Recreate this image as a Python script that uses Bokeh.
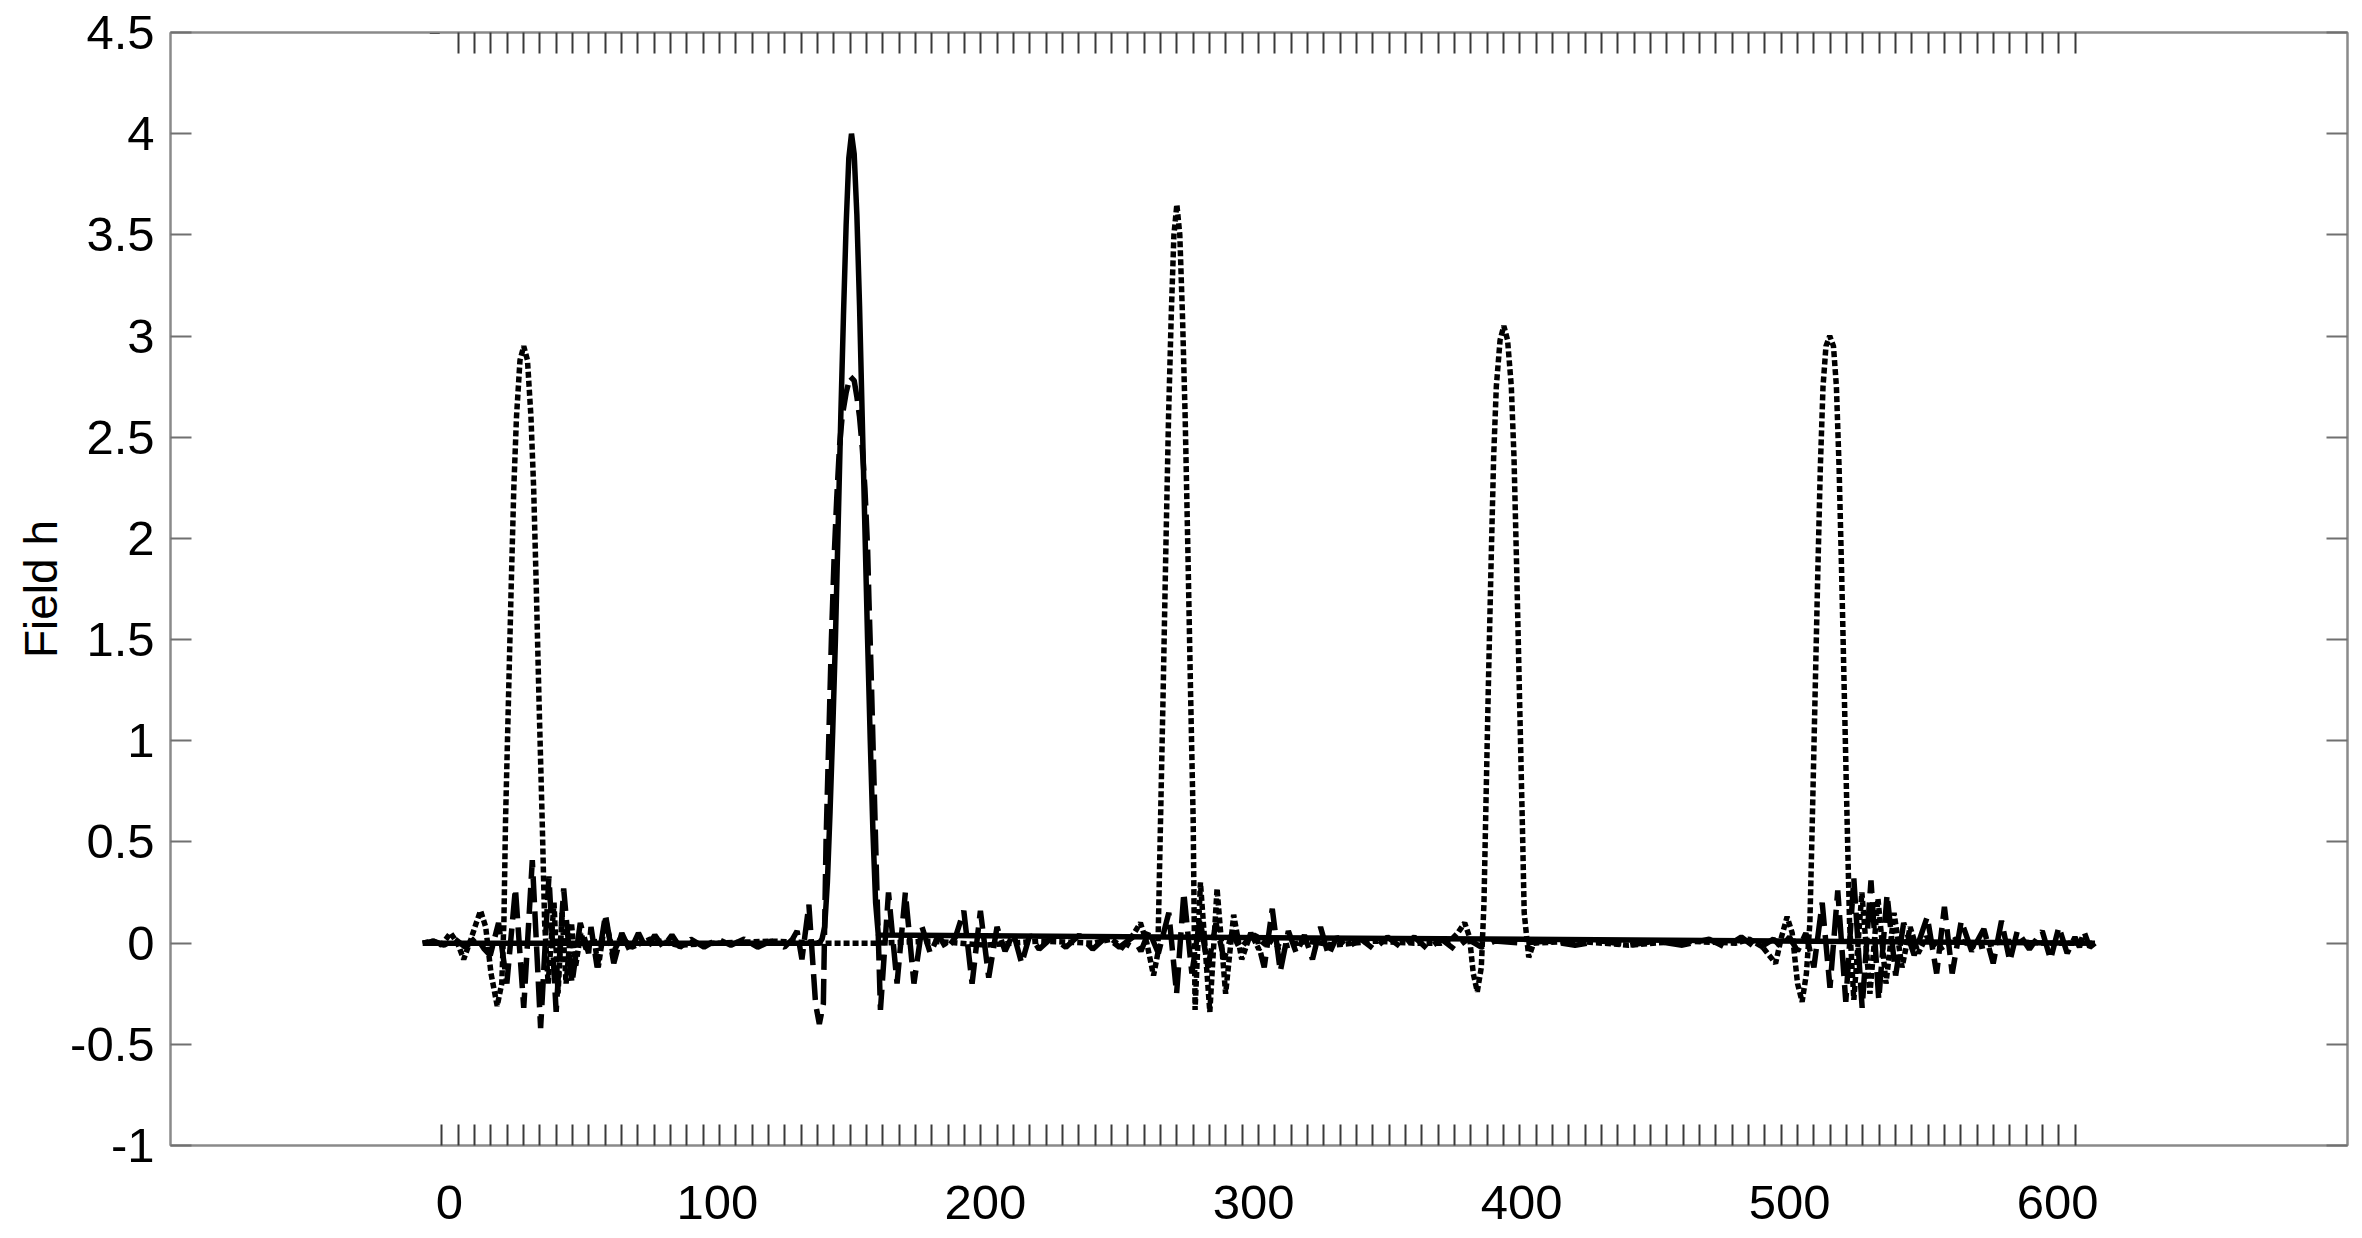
from bokeh.plotting import figure
from bokeh.models import Range1d, FixedTicker, LinearAxis, CustomJSTickFormatter, Title
from bokeh.embed import file_html
from bokeh.resources import INLINE

# ---------------- data ----------------
X_TICKS = [0, 100, 200, 300, 400, 500, 600]
Y_TICKS = [-1, -0.5, 0, 0.5, 1, 1.5, 2, 2.5, 3, 3.5, 4, 4.5]

# lattice marks along the bottom / top frame
LATTICE_FIRST = -2.87
LATTICE_STEP = 6.095
LATTICE_COUNT = 101

TOP_MARK_X = [-5.5]
TOP_MARK_Y = [4.5]

SOLID_X = [-10, 138, 139, 140, 141, 142, 143, 144, 145, 146, 147, 148, 149, 150,
           151, 152, 153, 154, 155, 156, 157, 158, 159, 160, 614]
SOLID_Y = [0, 0, 0.02, 0.08, 0.3, 0.65, 1.05, 1.5, 2.05, 2.6, 3.1, 3.55, 3.88, 4.0,
           3.9, 3.6, 3.15, 2.6, 2.05, 1.5, 1.0, 0.55, 0.2, 0.04, 0]

DASHED_X = [-10, -6, -2, 2, 6, 10, 13, 15.2, 18.3, 21.4, 24.6, 27.7, 30.9, 34.0, 37.1,
            39.8, 42.6, 45.7, 48.8, 51.9, 52.8, 55.1, 58.2, 61.3, 64.3, 67.4, 70.5,
            73.5, 76.6, 79.7, 83.0, 86.0, 90, 95, 100, 105, 110, 115, 120, 125, 128,
            129.7, 131.5, 134.1, 136.6, 138.0, 139.5, 140.5, 141.5, 142.5, 143.5, 144.5,
            145.5, 146.5, 148, 149.5, 151, 152, 153, 154, 155, 156, 156.5, 157.3, 158,
            158.7, 159.3, 160.8, 163.8, 167.0, 170.1, 173.3, 176.3, 179.4,
            182.5, 185.5, 188.8, 191.9, 195.0, 198.1, 201.2, 204.3, 207.3, 210.4, 213.5,
            216.5, 220, 225, 230, 235, 240, 245, 250, 255, 258, 261, 264.5, 268.4, 271.3,
            274.0, 277.0, 280.0, 283.0, 286.0, 289.0, 292.0, 295.0, 298.0, 301.0, 304.0,
            307.0, 310.0, 313.0, 316.0, 319.0, 322.0, 325.0, 328.0, 331.0, 335, 340, 345,
            350, 355, 360, 365, 370, 375, 380, 385, 390, 400, 410, 420, 430, 440, 450,
            460, 470, 476, 482, 488, 494, 497, 500, 503, 506.1, 509.1, 512.2, 515.1,
            518.0, 521.0, 524.0, 527.1, 530.4, 533.3, 536.4, 539.6, 542.6, 546.5, 551.4,
            554.9, 557.8, 560.7, 564.1, 568.0, 572.5, 576.0, 579.1, 582.2, 585.0, 589.5,
            594.3, 597.4, 600.5, 603.6, 606.5, 608.2, 609.8, 612, 614]
DASHED_Y = [0.0, 0.01, -0.01, 0.02, -0.02, 0.03, -0.03, -0.06, 0.1, -0.2, 0.27, -0.32, 0.41, -0.42, 0.33,
            -0.34, 0.27, -0.2, 0.1, -0.05, 0.08, -0.12, 0.14, -0.1, 0.05, -0.04, 0.05,
            -0.03, 0.04, -0.02, 0.04, -0.02, 0.02, -0.02, 0.02, -0.01, 0.02, -0.02, 0.01, -0.02, 0.02,
            0.06, -0.08, 0.19, -0.3, -0.4, -0.3, 0.5, 1.0, 1.5, 1.9, 2.2,
            2.45, 2.6, 2.72, 2.8, 2.78, 2.7, 2.6, 2.45, 2.25, 1.95, 1.7, 1.35, 1.0,
            0.65, 0.35, -0.33, 0.25, -0.2, 0.25, -0.2, 0.08, -0.05,
            0.04, -0.03, 0.03, 0.16, -0.2, 0.16, -0.17, 0.08, -0.04, 0.05, -0.1,
            0.04, -0.03, 0.03, -0.02, 0.04, -0.03, 0.03, -0.02, 0.03, -0.04, 0.06, -0.05, 0.15, -0.25,
            0.25, -0.15, 0.12, -0.12, 0.1, -0.08, 0.05, -0.03, 0.02, 0.04, -0.12,
            0.17, -0.14, 0.06, -0.05, 0.04, -0.08, 0.08, -0.06, 0.03, -0.02, 0.02, -0.03,
            0.03, -0.02, 0.03, -0.03, 0.02, -0.03, 0.02, -0.02, 0.01, 0.0, 0.01, -0.01, 0.01, -0.01, 0.01,
            -0.01, 0.02, -0.02, 0.03, -0.03, 0.02, -0.02, 0.03, -0.04, 0.05, -0.12, 0.2, -0.22,
            0.26, -0.29, 0.32, -0.32, 0.31, -0.28, 0.24, -0.16, 0.1, -0.06, 0.13,
            -0.15, 0.18, -0.15, 0.11, -0.04, 0.07, -0.1, 0.11, -0.09, 0.06, -0.03,
            0.06, -0.08, 0.08, -0.05, 0.03, -0.02, 0.06, -0.02, 0.0]

DOTTED_X = [-10, -6, -3, 0.4, 3, 5.3, 8, 10, 11.6, 13.5, 15.5, 17.8, 19.5, 20.3, 20.9, 22.0,
            23.0, 24.0, 25.0, 26.3, 27.7, 29.1, 30.4, 31.4, 32.4, 33.4, 34.6, 35.5, 36.8,
            39.0, 40.5, 42.0, 43.5, 45.5, 47.0, 49.0, 51.0, 54.0, 55.5, 58.2, 61.0, 64.0,
            68.0, 75.0, 85.0, 100, 120, 140, 160, 180, 200, 220, 240, 247, 252, 255, 257.8,
            260.2, 262.7, 264.3, 265.3, 266.3, 267.3, 268.3, 269.3, 270.3, 271.4, 272.5,
            273.5, 274.5, 275.5, 276.5, 277.5, 278.2, 280.2, 283.7, 286.4, 289.6, 292.6,
            295.6, 299, 302, 305, 310, 320, 330, 345, 360, 370, 374, 376.2, 378.8, 380.6,
            382.0, 383.5, 385.0, 386.0, 386.6, 387.6, 388.6, 389.6, 390.6, 392.0, 393.4,
            394.8, 396.2, 397.2, 398.2, 399.2, 400.3, 401.0, 402.7, 404.5, 420, 440, 460,
            480, 485, 490, 494.8, 497.0, 499.1, 501.0, 503.0, 504.7, 506.3, 507.6, 508.5,
            509.5, 510.5, 511.5, 512.5, 513.6, 515.0, 516.4, 517.5, 518.5, 519.5, 520.5,
            521.5, 522.4, 524.0, 527.0, 530.0, 533.0, 536.0, 539.0, 542.0, 545.0, 548.0,
            551.0, 556, 562, 570, 580, 595, 614]
DOTTED_Y = [0.0, 0.01, -0.01, 0.05, 0.0, -0.08, 0.02, 0.1, 0.16, 0.08, -0.15, -0.31, -0.2, 0.1, 0.6, 1.2,
            1.75, 2.25, 2.6, 2.88, 2.95, 2.88, 2.6, 2.25, 1.75, 1.2, 0.6, 0.1, -0.2,
            0.2, -0.25, 0.15, -0.2, 0.1, -0.12, 0.05, -0.03, 0.02, -0.12, 0.12, -0.05, 0.03,
            -0.02, 0.02, -0.01, 0.0, 0.01, 0.0, 0.0, 0.01, -0.01, 0.01, 0.0, 0.02, -0.03, 0.04, 0.1,
            0.0, -0.16, -0.05, 0.6, 1.25, 1.95, 2.6, 3.1, 3.5, 3.65, 3.5,
            3.1, 2.6, 1.95, 1.25, 0.6, -0.33, 0.3, -0.34, 0.27, -0.25, 0.14,
            -0.08, 0.05, -0.03, 0.02, -0.02, 0.01, -0.01, 0.01, 0.0, 0.0, 0.02, 0.05, 0.1, 0.03,
            -0.15, -0.24, -0.12, 0.2, 0.6, 1.25, 1.85, 2.4, 2.75, 2.98, 3.05,
            2.98, 2.75, 2.4, 1.85, 1.25, 0.6, 0.15, -0.07, 0.0, 0.01, -0.01, 0.01,
            0.0, 0.02, -0.02, -0.1, 0.03, 0.13, 0.05, -0.2, -0.29, -0.15, 0.1, 0.6,
            1.2, 1.8, 2.35, 2.75, 2.95, 3.0, 2.95, 2.75, 2.35, 1.8, 1.2,
            0.6, 0.1, -0.28, 0.25, -0.25, 0.22, -0.2, 0.15, -0.12, 0.08, -0.05,
            0.03, -0.03, 0.02, -0.02, 0.01, 0.0, 0.0]

Y_LABEL = "Field h"

# ---------------- styling ----------------
FONT = "Liberation Sans"
FRAME = "#8a8a8a"
INK = "#000000"

lattice = [LATTICE_FIRST + i * LATTICE_STEP for i in range(LATTICE_COUNT)]

p = figure(width=2362, height=1238, output_backend="svg", toolbar_location=None,
           x_range=Range1d(-104.1, 708.2), y_range=Range1d(-1, 4.5),
           x_axis_location=None, y_axis_location=None,
           min_border_left=170, min_border_right=15, min_border_top=32, min_border_bottom=93)
p.xgrid.grid_line_color = None
p.ygrid.grid_line_color = None
p.background_fill_color = "white"
p.border_fill_color = "white"
p.outline_line_color = FRAME
p.outline_line_width = 2

# bottom axis: labels at 0..600, lattice marks as inward minor ticks
xb = LinearAxis(ticker=FixedTicker(ticks=X_TICKS, minor_ticks=lattice),
                formatter=CustomJSTickFormatter(code="return tick.toString();"))
xb.major_tick_in = 0
xb.major_tick_out = 0
xb.major_tick_line_color = None
xb.minor_tick_in = 21
xb.minor_tick_out = 0
xb.minor_tick_line_color = "#3a3a3a"
xb.minor_tick_line_width = 2
xb.axis_line_color = FRAME
xb.axis_line_width = 2
xb.major_label_text_font = FONT
xb.major_label_text_font_size = "49px"
xb.major_label_text_color = INK
xb.major_label_standoff = 40
p.add_layout(xb, "below")

# top axis: lattice marks only
xt = LinearAxis(ticker=FixedTicker(ticks=[], minor_ticks=lattice[1:]),
                formatter=CustomJSTickFormatter(code="return '';"))
xt.major_tick_line_color = None
xt.minor_tick_in = 21
xt.minor_tick_out = 0
xt.minor_tick_line_color = "#3a3a3a"
xt.minor_tick_line_width = 2
xt.axis_line_color = FRAME
xt.axis_line_width = 2
xt.major_label_text_font_size = "0px"
xt.major_label_standoff = 0
p.add_layout(xt, "above")

# left axis
yl = LinearAxis(ticker=FixedTicker(ticks=Y_TICKS),
                formatter=CustomJSTickFormatter(code="return tick.toString();"))
yl.major_tick_in = 21
yl.major_tick_out = 0
yl.major_tick_line_color = "#707070"
yl.major_tick_line_width = 2
yl.minor_tick_line_color = None
yl.axis_line_color = FRAME
yl.axis_line_width = 2
yl.major_label_text_font = FONT
yl.major_label_text_font_size = "49px"
yl.major_label_text_color = INK
yl.major_label_standoff = 16
p.add_layout(yl, "left")

# y-axis title as a left-side title panel
ytitle = Title(text=Y_LABEL, align="center", text_font=FONT, text_font_size="46px",
               text_font_style="normal", text_color=INK, standoff=2)
p.add_layout(ytitle, "left")

# right axis (ticks only)
yr = LinearAxis(ticker=FixedTicker(ticks=Y_TICKS),
                formatter=CustomJSTickFormatter(code="return '';"))
yr.major_tick_in = 21
yr.major_tick_out = 0
yr.major_tick_line_color = "#707070"
yr.major_tick_line_width = 2
yr.minor_tick_line_color = None
yr.axis_line_color = FRAME
yr.axis_line_width = 2
yr.major_label_text_font_size = "0px"
yr.major_label_standoff = 0
p.add_layout(yr, "right")

# series
p.line(SOLID_X, SOLID_Y, line_color=INK, line_width=5.5)
p.line(DASHED_X, DASHED_Y, line_color=INK, line_width=5.5, line_dash="26 9", line_cap="butt")
p.line(DOTTED_X, DOTTED_Y, line_color=INK, line_width=5.5, line_dash="6 3", line_cap="butt")

p.scatter(TOP_MARK_X, TOP_MARK_Y, marker="dash", size=10, line_color="#222222", line_width=3)

open("out.html", "w").write(file_html(p, INLINE))
